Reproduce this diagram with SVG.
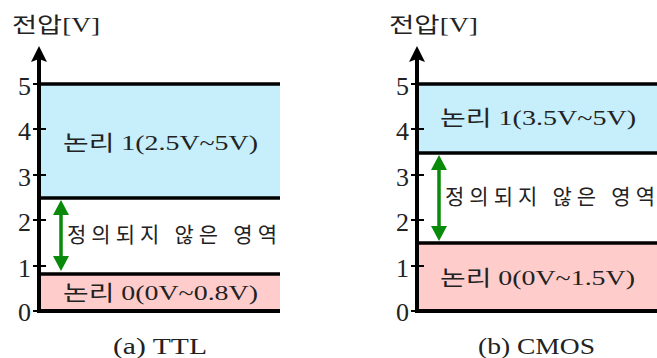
<svg xmlns="http://www.w3.org/2000/svg" width="657" height="358" viewBox="0 0 657 358">
<style>
.ax{stroke:#000;stroke-width:4;fill:none}
.bl{stroke:#000;stroke-width:3.5;fill:none}
.tk{stroke:#000;stroke-width:2}
.num{font-family:"Liberation Serif",serif;font-size:26px;fill:#222;text-anchor:end}
.kr{font-family:"Liberation Serif","Noto Sans CJK KR",serif;font-size:21px;fill:#222}
.cap{font-family:"Liberation Serif",serif;font-size:24px;fill:#222}
.hi{fill:#C6EEFB}
.lo{fill:#FFCCCC}
.g{stroke:#0A8A0A;stroke-width:3.5;fill:none}
.gh{fill:#0A8A0A}
</style>
<defs>
<path id="axhead" d="M0,0 L8,16 L0,13 L-8,16 Z" fill="#000"/>
</defs>

<g id="ttl-panel">
<g id="ttl-high">
<rect class="hi" x="41" y="84" width="239" height="114"/>
<line class="bl" x1="39" y1="84" x2="280" y2="84"/>
<line class="bl" x1="39" y1="198" x2="280" y2="198"/>
<text class="kr" x="63" y="150" textLength="195" lengthAdjust="spacingAndGlyphs">논리 1(2.5V~5V)</text>
</g>
<g id="ttl-low">
<rect class="lo" x="41" y="274" width="239" height="37"/>
<line class="bl" x1="39" y1="274" x2="280" y2="274"/>
<text class="kr" x="63" y="300" textLength="195" lengthAdjust="spacingAndGlyphs">논리 0(0V~0.8V)</text>
</g>
<g id="ttl-undef">
<text class="kr" x="67" y="242" textLength="210" lengthAdjust="spacing">정의되지 않은 영역</text>
</g>
<g id="ttl-axis">
<line class="ax" x1="39" y1="56" x2="39" y2="313"/>
<line class="ax" x1="37" y1="311" x2="280" y2="311"/>
<use href="#axhead" x="39" y="46"/>
<line class="tk" x1="33" y1="266" x2="46" y2="266"/>
<line class="tk" x1="33" y1="220" x2="46" y2="220"/>
<line class="tk" x1="33" y1="175" x2="46" y2="175"/>
<line class="tk" x1="33" y1="129" x2="46" y2="129"/>
<line class="tk" x1="33" y1="84" x2="46" y2="84"/>
<line class="tk" x1="33" y1="311" x2="40" y2="311"/>
<text class="num" x="31" y="95">5</text>
<text class="num" x="31" y="140">4</text>
<text class="num" x="31" y="186">3</text>
<text class="num" x="31" y="231">2</text>
<text class="num" x="31" y="277">1</text>
<text class="num" x="31" y="321">0</text>
<text class="kr" x="12" y="32" textLength="88" lengthAdjust="spacingAndGlyphs">전압[V]</text>
</g>
<text class="cap" x="113" y="354" textLength="94" lengthAdjust="spacingAndGlyphs">(a)  TTL</text>
</g>

<g id="cmos-panel">
<g id="cmos-high">
<rect class="hi" x="419" y="84" width="238" height="69"/>
<line class="bl" x1="417" y1="84" x2="657" y2="84"/>
<line class="bl" x1="417" y1="153" x2="657" y2="153"/>
<text class="kr" x="440" y="125" textLength="196" lengthAdjust="spacingAndGlyphs">논리 1(3.5V~5V)</text>
</g>
<g id="cmos-low">
<rect class="lo" x="419" y="243" width="238" height="68"/>
<line class="bl" x1="417" y1="243" x2="657" y2="243"/>
<text class="kr" x="440" y="285" textLength="195" lengthAdjust="spacingAndGlyphs">논리 0(0V~1.5V)</text>
</g>
<g id="cmos-undef">
<text class="kr" x="445" y="204" textLength="210" lengthAdjust="spacing">정의되지 않은 영역</text>
</g>
<g id="cmos-axis">
<line class="ax" x1="417" y1="56" x2="417" y2="313"/>
<line class="ax" x1="415" y1="311" x2="657" y2="311"/>
<use href="#axhead" x="417" y="46"/>
<line class="tk" x1="411" y1="266" x2="424" y2="266"/>
<line class="tk" x1="411" y1="220" x2="424" y2="220"/>
<line class="tk" x1="411" y1="175" x2="424" y2="175"/>
<line class="tk" x1="411" y1="129" x2="424" y2="129"/>
<line class="tk" x1="411" y1="84" x2="424" y2="84"/>
<line class="tk" x1="411" y1="311" x2="418" y2="311"/>
<text class="num" x="409" y="95">5</text>
<text class="num" x="409" y="140">4</text>
<text class="num" x="409" y="186">3</text>
<text class="num" x="409" y="231">2</text>
<text class="num" x="409" y="277">1</text>
<text class="num" x="409" y="321">0</text>
<text class="kr" x="389" y="32" textLength="89" lengthAdjust="spacingAndGlyphs">전압[V]</text>
</g>
<text class="cap" x="478" y="354" textLength="117" lengthAdjust="spacingAndGlyphs">(b)  CMOS</text>
</g>

<g id="connectors">
<line class="g" x1="61" y1="212" x2="61" y2="258"/>
<path class="gh" d="M61,200 L69,215 L53,215 Z"/>
<path class="gh" d="M61,271 L69,256 L53,256 Z"/>
<line class="g" x1="439" y1="167" x2="439" y2="228"/>
<path class="gh" d="M439,155 L447,170 L431,170 Z"/>
<path class="gh" d="M439,241 L447,226 L431,226 Z"/>
</g>
</svg>
